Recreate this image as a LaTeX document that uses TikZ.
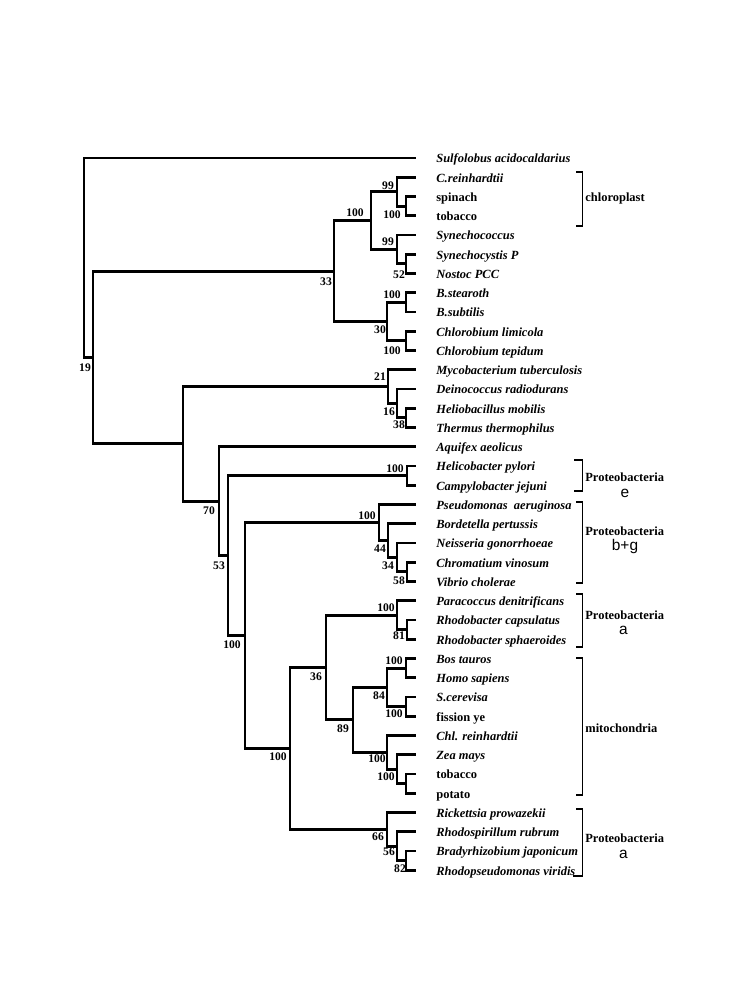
\documentclass[tikz,border=0pt]{standalone}
\usepackage{fontspec}
\setmainfont{Liberation Serif}
\setsansfont{Liberation Sans}
\tikzset{
  branch/.style={line width=1.65pt},
  leaf/.style={anchor=west, inner xsep=0.4cm, inner ysep=0pt, text height=1.5ex, text depth=.3ex,
    font=\fontsize{7.1}{8}\selectfont\bfseries\itshape},
  leafup/.style={leaf, font=\fontsize{7.1}{8}\selectfont\bfseries},
  boot/.style={inner sep=0pt, font=\fontsize{6.6}{7}\selectfont\bfseries},
  clade/.style={line width=1.1pt},
  group/.style={anchor=west, inner sep=0pt, font=\fontsize{7.1}{8}\selectfont\bfseries},
  greek/.style={inner sep=0pt, font=\fontsize{8.8}{9}\selectfont\sffamily}
}

\begin{document}
\begin{tikzpicture}[x=0.02cm, y=-0.02cm]

\useasboundingbox (0,0) rectangle (749,999);

% taxa
\node[leaf] (sulfo) at (416,158) {Sulfolobus acidocaldarius};
\node[leaf] (crein) at (416,177.25) {C.reinhardtii};
\node[leafup] (spin) at (416,196.5) {spinach};
\node[leafup] (tobc) at (416,215.75) {tobacco};
\node[leaf] (synco) at (416,235) {Synechococcus};
\node[leaf] (syncy) at (416,254.25) {Synechocystis P};
\node[leaf] (nost) at (416,273.5) {Nostoc PCC};
\node[leaf] (bstea) at (416,292.75) {B.stearoth};
\node[leaf] (bsub) at (416,312) {B.subtilis};
\node[leaf] (chlim) at (416,331.25) {Chlorobium limicola};
\node[leaf] (chtep) at (416,350.5) {Chlorobium tepidum};
\node[leaf] (myco) at (416,369.75) {Mycobacterium tuberculosis};
\node[leaf] (deino) at (416,389) {Deinococcus radiodurans};
\node[leaf] (helio) at (416,408.25) {Heliobacillus mobilis};
\node[leaf] (therm) at (416,427.5) {Thermus thermophilus};
\node[leaf] (aqui) at (416,446.75) {Aquifex aeolicus};
\node[leaf] (hpyl) at (416,466) {Helicobacter pylori};
\node[leaf] (cjej) at (416,485.25) {Campylobacter jejuni};
\node[leaf] (pseu) at (416,504.5) {Pseudomonas\ \ aeruginosa};
\node[leaf] (bord) at (416,523.75) {Bordetella pertussis};
\node[leaf] (neis) at (416,543) {Neisseria gonorrhoeae};
\node[leaf] (chrom) at (416,562.25) {Chromatium vinosum};
\node[leaf] (vib) at (416,581.5) {Vibrio cholerae};
\node[leaf] (para) at (416,600.75) {Paracoccus denitrificans};
\node[leaf] (rcap) at (416,620) {Rhodobacter capsulatus};
\node[leaf] (rsph) at (416,639.25) {Rhodobacter sphaeroides};
\node[leaf] (bos) at (416,658.5) {Bos tauros};
\node[leaf] (homo) at (416,677.75) {Homo sapiens};
\node[leaf] (scer) at (416,697) {S.cerevisa};
\node[leafup] (fiss) at (416,716.25) {fission ye};
\node[leaf] (chlr) at (416,735.5) {Chl. reinhardtii};
\node[leaf] (zea) at (416,754.75) {Zea mays};
\node[leafup] (tobm) at (416,774) {tobacco};
\node[leafup] (pota) at (416,793.25) {potato};
\node[leaf] (rick) at (416,812.5) {Rickettsia prowazekii};
\node[leaf] (rrub) at (416,831.75) {Rhodospirillum rubrum};
\node[leaf] (brady) at (416,851) {Bradyrhizobium japonicum};
\node[leaf] (rvir) at (416,870.25) {Rhodopseudomonas viridis};

% internal nodes
\coordinate (n1) at (406,206.1);
\coordinate (n2) at (397,191.7);
\coordinate (n3) at (406,263.9);
\coordinate (n4) at (397,249.4);
\coordinate (n5) at (371,220.6);
\coordinate (n6) at (406,302.4);
\coordinate (n7) at (406,340.9);
\coordinate (n8) at (387,321.6);
\coordinate (n9) at (334,271.1);
\coordinate (n10) at (406,417.9);
\coordinate (n11) at (397,403.4);
\coordinate (n12) at (388,386.6);
\coordinate (n13) at (407,475.6);
\coordinate (n14) at (407,571.9);
\coordinate (n15) at (397,557.4);
\coordinate (n16) at (388,540.6);
\coordinate (n17) at (379,522.6);
\coordinate (n18) at (407,629.6);
\coordinate (n19) at (397,615.2);
\coordinate (n20) at (406,668.1);
\coordinate (n21) at (406,706.6);
\coordinate (n22) at (387,687.4);
\coordinate (n23) at (406,783.6);
\coordinate (n24) at (397,769.2);
\coordinate (n25) at (387,752.3);
\coordinate (n26) at (353,719.9);
\coordinate (n27) at (326,667.5);
\coordinate (n28) at (406,860.6);
\coordinate (n29) at (397,846.2);
\coordinate (n30) at (387,829.3);
\coordinate (n31) at (290,748.4);
\coordinate (n32) at (245,635.5);
\coordinate (n33) at (228,555.6);
\coordinate (n34) at (219,501.2);
\coordinate (n35) at (183,443.9);
\coordinate (n36) at (93,357.5);
\coordinate (root) at (84,257.7);

% branches
\draw[branch] (root) |- (sulfo) (root) |- (n36);
\draw[branch] (n36) |- (n9) (n36) |- (n35);
\draw[branch] (n9) |- (n5) (n9) |- (n8);
\draw[branch] (n5) |- (n2) (n5) |- (n4);
\draw[branch] (n2) |- (crein) (n2) |- (n1);
\draw[branch] (n1) |- (spin) (n1) |- (tobc);
\draw[branch] (n4) |- (synco) (n4) |- (n3);
\draw[branch] (n3) |- (syncy) (n3) |- (nost);
\draw[branch] (n8) |- (n6) (n8) |- (n7);
\draw[branch] (n6) |- (bstea) (n6) |- (bsub);
\draw[branch] (n7) |- (chlim) (n7) |- (chtep);
\draw[branch] (n35) |- (n12) (n35) |- (n34);
\draw[branch] (n12) |- (myco) (n12) |- (n11);
\draw[branch] (n11) |- (deino) (n11) |- (n10);
\draw[branch] (n10) |- (helio) (n10) |- (therm);
\draw[branch] (n34) |- (aqui) (n34) |- (n33);
\draw[branch] (n33) |- (n13) (n33) |- (n32);
\draw[branch] (n13) |- (hpyl) (n13) |- (cjej);
\draw[branch] (n32) |- (n17) (n32) |- (n31);
\draw[branch] (n17) |- (pseu) (n17) |- (n16);
\draw[branch] (n16) |- (bord) (n16) |- (n15);
\draw[branch] (n15) |- (neis) (n15) |- (n14);
\draw[branch] (n14) |- (chrom) (n14) |- (vib);
\draw[branch] (n31) |- (n27) (n31) |- (n30);
\draw[branch] (n27) |- (n19) (n27) |- (n26);
\draw[branch] (n19) |- (para) (n19) |- (n18);
\draw[branch] (n18) |- (rcap) (n18) |- (rsph);
\draw[branch] (n26) |- (n22) (n26) |- (n25);
\draw[branch] (n22) |- (n20) (n22) |- (n21);
\draw[branch] (n20) |- (bos) (n20) |- (homo);
\draw[branch] (n21) |- (scer) (n21) |- (fiss);
\draw[branch] (n25) |- (chlr) (n25) |- (n24);
\draw[branch] (n24) |- (zea) (n24) |- (n23);
\draw[branch] (n23) |- (tobm) (n23) |- (pota);
\draw[branch] (n30) |- (rick) (n30) |- (n29);
\draw[branch] (n29) |- (rrub) (n29) |- (n28);
\draw[branch] (n28) |- (brady) (n28) |- (rvir);

% bootstrap values
\node[boot] (b2) at (388,186) {99};
\node[boot] (b1) at (392,215) {100};
\node[boot] (b5) at (355,213) {100};
\node[boot] (b4) at (388,242) {99};
\node[boot] (b3) at (399,275) {52};
\node[boot] (b9) at (326,282) {33};
\node[boot] (b6) at (392,295) {100};
\node[boot] (b8) at (380,330) {30};
\node[boot] (b7) at (392,351) {100};
\node[boot] (b12) at (380,377) {21};
\node[boot] (b11) at (389,412) {16};
\node[boot] (b10) at (399,425) {38};
\node[boot] (b36) at (85,368) {19};
\node[boot] (b13) at (395,469) {100};
\node[boot] (b34) at (209,511) {70};
\node[boot] (b17) at (367,516) {100};
\node[boot] (b16) at (380,549) {44};
\node[boot] (b33) at (219,566) {53};
\node[boot] (b15) at (388,566) {34};
\node[boot] (b14) at (399,581) {58};
\node[boot] (b19) at (386,608) {100};
\node[boot] (b18) at (399,636) {81};
\node[boot] (b32) at (232,645) {100};
\node[boot] (b20) at (394,661) {100};
\node[boot] (b27) at (316,677) {36};
\node[boot] (b22) at (379,696) {84};
\node[boot] (b21) at (394,714) {100};
\node[boot] (b26) at (343,729) {89};
\node[boot] (b31) at (278,757) {100};
\node[boot] (b25) at (377,759) {100};
\node[boot] (b24) at (386,777) {100};
\node[boot] (b30) at (378,837) {66};
\node[boot] (b29) at (389,852) {56};
\node[boot] (b28) at (400,869) {82};

% brackets
\draw[clade] (576,171.7) -- (582.5,171.7) -- (582.5,226) -- (576,226);
\draw[clade] (574,460) -- (582.5,460) -- (582.5,490.7) -- (574,490.7);
\draw[clade] (576,501.7) -- (582.5,501.7) -- (582.5,583.3) -- (576,583.3);
\draw[clade] (576,594) -- (582.5,594) -- (582.5,647.3) -- (576,647.3);
\draw[clade] (576,658.3) -- (582.5,658.3) -- (582.5,795) -- (576,795);
\draw[clade] (576,809.3) -- (582.5,809.3) -- (582.5,876) -- (573,876);

\node[group] (gchl) at (585,198.3) {chloroplast};
\node[group] (geps) at (585,477.7) {Proteobacteria};
\node[greek] (leps) at (625,493.3) {e};
\node[group] (gbg) at (585,531.7) {Proteobacteria};
\node[greek] (lbg) at (625,546.7) {b+g};
\node[group] (ga1) at (585,615) {Proteobacteria};
\node[greek] (la1) at (623.3,630) {a};
\node[group] (gmito) at (585,728.3) {mitochondria};
\node[group] (ga2) at (585,838.3) {Proteobacteria};
\node[greek] (la2) at (623.3,854) {a};

\end{tikzpicture}
\end{document}
